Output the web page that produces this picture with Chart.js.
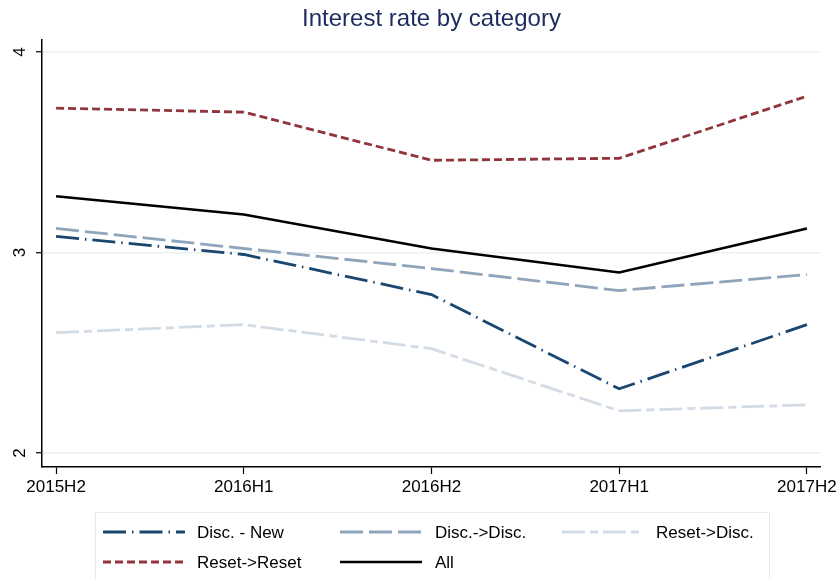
<!DOCTYPE html>
<html>
<head>
<meta charset="utf-8">
<script src="https://cdn.jsdelivr.net/npm/chart.js@4/dist/chart.umd.min.js"></script>
<style>
  html, body { margin: 0; padding: 0; background: #fff; }
  #wrap { width: 840px; height: 579px; position: relative; }
</style>
</head>
<body>
<div id="wrap"><canvas id="chart" width="840" height="579"></canvas></div>
<script>
const periods = ['2015H2', '2016H1', '2016H2', '2017H1', '2017H2'];
const discNew = [3.08, 2.99, 2.79, 2.32, 2.64];
const discDisc = [3.12, 3.02, 2.92, 2.81, 2.89];
const resetDisc = [2.60, 2.64, 2.52, 2.21, 2.24];
const resetReset = [3.72, 3.70, 3.46, 3.47, 3.78];
const allRate = [3.28, 3.19, 3.02, 2.90, 3.12];
const yTicks = [2, 3, 4];

const FONT = '"Liberation Sans", Arial, sans-serif';
const toPoints = arr => arr.map((v, i) => ({ x: i, y: v }));

// title centred over plot area + rotated y labels + 3-column legend box
const stataBits = {
    id: 'stataBits',
    afterDraw(chart) {
        const { ctx, chartArea, scales } = chart;
        ctx.save();
        ctx.fillStyle = '#1e2b5e';
        ctx.font = '24px ' + FONT;
        ctx.textAlign = 'center';
        ctx.textBaseline = 'middle';
        ctx.fillText('Interest rate by category', (chartArea.left + chartArea.right) / 2, 19);

        ctx.fillStyle = '#000';
        ctx.font = '17px ' + FONT;
        scales.y.ticks.forEach(t => {
            const py = scales.y.getPixelForValue(t.value);
            ctx.save();
            ctx.translate(20, py);
            ctx.rotate(-Math.PI / 2);
            ctx.fillText(String(t.value), 0, 0);
            ctx.restore();
        });

        // legend
        ctx.strokeStyle = '#e4ecee';
        ctx.lineWidth = 1;
        ctx.strokeRect(95.5, 512.5, 674, 80);
        const cols = [[103, 197], [340, 435], [562, 656]];
        const rows = [532, 562];
        chart.data.datasets.forEach((ds, i) => {
            const [lx, tx] = cols[i % 3];
            const y = rows[Math.floor(i / 3)];
            ctx.beginPath();
            ctx.setLineDash(ds.borderDash || []);
            ctx.strokeStyle = ds.borderColor;
            ctx.lineWidth = ds.borderWidth;
            ctx.moveTo(lx, y);
            ctx.lineTo(lx + 82, y);
            ctx.stroke();
            ctx.setLineDash([]);
            ctx.fillStyle = '#000';
            ctx.textAlign = 'left';
            ctx.fillText(ds.label, tx, y + 1);
        });
        ctx.restore();
    }
};

new Chart(document.getElementById('chart'), {
    type: 'line',
    data: {
        datasets: [
            { label: 'Disc. - New', data: toPoints(discNew), borderColor: '#1a476f', borderWidth: 2.8, borderDash: [23, 6, 1.5, 6] },
            { label: 'Disc.->Disc.', data: toPoints(discDisc), borderColor: '#8fa5bc', borderWidth: 2.8, borderDash: [23, 6] },
            { label: 'Reset->Disc.', data: toPoints(resetDisc), borderColor: '#d3dbe4', borderWidth: 2.8, borderDash: [23, 5, 8, 5] },
            { label: 'Reset->Reset', data: toPoints(resetReset), borderColor: '#90353b', borderWidth: 2.8, borderDash: [8, 4] },
            { label: 'All', data: toPoints(allRate), borderColor: '#000000', borderWidth: 2.5 }
        ]
    },
    options: {
        responsive: false,
        animation: false,
        layout: { padding: { top: 40, right: 18, left: 0, bottom: 0 } },
        elements: { point: { radius: 0 }, line: { tension: 0 } },
        plugins: { legend: { display: false }, title: { display: false }, tooltip: { enabled: false } },
        scales: {
            x: {
                type: 'linear',
                min: -0.075,
                max: 4.075,
                afterBuildTicks: axis => { axis.ticks = periods.map((p, i) => ({ value: i })); },
                afterFit: axis => { axis.height = 112; },
                ticks: { color: '#000', font: { size: 17, family: FONT }, padding: 3, maxRotation: 0, autoSkip: false,
                         callback: v => periods[v] },
                grid: { drawOnChartArea: false, tickLength: 7, tickColor: '#000', tickWidth: 1.2 },
                border: { color: '#000', width: 1.5 }
            },
            y: {
                min: 1.93,
                max: 4.06,
                afterBuildTicks: axis => { axis.ticks = yTicks.map(v => ({ value: v })); },
                afterFit: axis => { axis.width = 42; },
                ticks: { display: false },
                grid: { color: '#eaf2f3', lineWidth: 1.5, tickLength: 6, tickColor: '#000', tickWidth: 1.2 },
                border: { color: '#000', width: 1.5 }
            }
        }
    },
    plugins: [stataBits]
});
</script>
</body>
</html>
